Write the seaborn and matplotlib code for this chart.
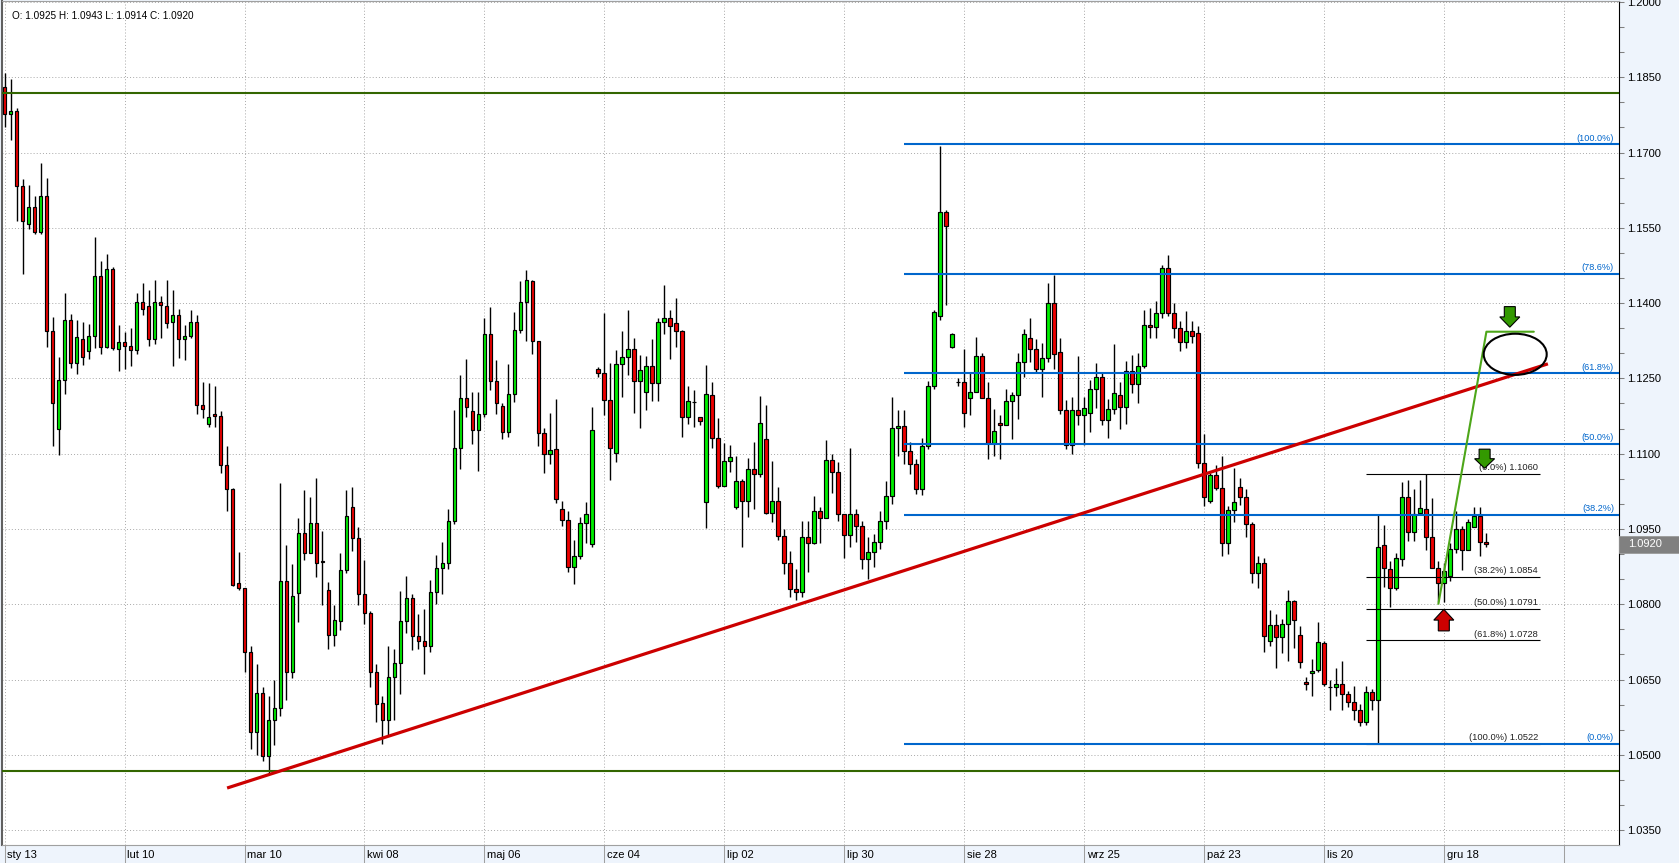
import numpy as np
import pandas as pd
import matplotlib
matplotlib.use("Agg")
import matplotlib.pyplot as plt
import matplotlib.transforms as mtransforms
from matplotlib.patches import Ellipse, Polygon, Rectangle
from matplotlib.ticker import FixedLocator, FuncFormatter
import seaborn as sns

# ---------------- data (EUR/USD daily candles) ----------------
opens = [
    1.1830, 1.1776, 1.1782, 1.1634, 1.1558, 1.1592, 1.1542, 1.1613, 1.1344, 1.1150,
    1.1246, 1.1366, 1.1280, 1.1329, 1.1304, 1.1335, 1.1453, 1.1313, 1.1467, 1.1309,
    1.1322, 1.1315, 1.1307, 1.1402, 1.1395, 1.1329, 1.1402, 1.1395, 1.1363, 1.1377,
    1.1329, 1.1335, 1.1362, 1.1198, 1.1159, 1.1180, 1.1175, 1.1078, 1.1030, 1.0842,
    1.0832, 1.0705, 1.0545, 1.0623, 1.0497, 1.0570, 1.0593, 1.0846, 1.0666, 1.0822,
    1.0942, 1.0902, 1.0962, 1.0886, 1.0828, 1.0738, 1.0766, 1.0868, 1.0994, 1.0932,
    1.0820, 1.0783, 1.0665, 1.0603, 1.0569, 1.0655, 1.0683, 1.0766, 1.0813, 1.0736,
    1.0727, 1.0717, 1.0825, 1.0872, 1.0883, 1.0965, 1.1111, 1.1211, 1.1186, 1.1147,
    1.1179, 1.1338, 1.1244, 1.1195, 1.1144, 1.1219, 1.1346, 1.1402, 1.1444, 1.1324,
    1.1141, 1.1099, 1.1109, 1.0990, 1.0968, 1.0875, 1.0897, 1.0962, 1.0920, 1.1269,
    1.1261, 1.1207, 1.1101, 1.1278, 1.1292, 1.1308, 1.1244, 1.1223, 1.1274, 1.1241,
    1.1362, 1.1370, 1.1360, 1.1345, 1.1173, 1.1203, 1.1173, 1.1004, 1.1217, 1.1131,
    1.1035, 1.1085, 1.0994, 1.1046, 1.1006, 1.1069, 1.1060, 1.1129, 1.0982, 1.1006,
    1.0937, 1.0882, 1.0830, 1.0825, 1.0935, 1.0922, 1.0986, 1.0971, 1.1087, 1.1063,
    1.0980, 1.0938, 1.0980, 1.0955, 1.0890, 1.0905, 1.0925, 1.0965, 1.1015, 1.1152,
    1.1156, 1.1105, 1.1080, 1.1030, 1.1115, 1.1234, 1.1375, 1.1581, 1.1312, 1.1242,
    1.1242, 1.1210, 1.1222, 1.1294, 1.1210, 1.1122, 1.1162, 1.1158, 1.1204, 1.1216,
    1.1282, 1.1330, 1.1308, 1.1268, 1.1290, 1.1401, 1.1302, 1.1187, 1.1117, 1.1187,
    1.1178, 1.1182, 1.1228, 1.1252, 1.1168, 1.1190, 1.1217, 1.1194, 1.1265, 1.1238,
    1.1275, 1.1357, 1.1352, 1.1380, 1.1470, 1.1381, 1.1350, 1.1323, 1.1345, 1.1340,
    1.1081, 1.1006, 1.1058, 1.1032, 1.0922, 1.0988, 1.1034, 1.1014, 1.0960, 1.0862,
    1.0882, 1.0727, 1.0758, 1.0735, 1.0761, 1.0806, 1.0738, 1.0646, 1.0663, 1.0670,
    1.0723, 1.0635, 1.0635, 1.0641, 1.0621, 1.0605, 1.0590, 1.0565, 1.0625, 1.0610,
    1.0918, 1.0870, 1.0832, 1.0890, 1.1014, 1.0945, 1.0982, 1.0990, 1.0934, 1.0872,
    1.0842, 1.0856, 1.0910, 1.0949, 1.0909, 1.0954, 1.0975, 1.0925,
]
highs = [
    1.1859, 1.1847, 1.1789, 1.1647, 1.1636, 1.1613, 1.1679, 1.1649, 1.1372, 1.1293,
    1.1420, 1.1379, 1.1366, 1.1362, 1.1359, 1.1531, 1.1483, 1.1498, 1.1472, 1.1356,
    1.1343, 1.1351, 1.1420, 1.1440, 1.1426, 1.1446, 1.1414, 1.1447, 1.1427, 1.1389,
    1.1356, 1.1386, 1.1376, 1.1242, 1.1240, 1.1235, 1.1185, 1.1115, 1.1032, 1.0905,
    1.0832, 1.0717, 1.0682, 1.0635, 1.0618, 1.0650, 1.1042, 1.0919, 1.0881, 1.0971,
    1.1028, 1.1014, 1.1052, 1.0947, 1.0844, 1.0799, 1.0902, 1.1027, 1.1034, 1.0954,
    1.0888, 1.0786, 1.0682, 1.0618, 1.0716, 1.0710, 1.0827, 1.0857, 1.0820, 1.0781,
    1.0790, 1.0849, 1.0899, 1.0924, 1.0990, 1.1187, 1.1256, 1.1289, 1.1223, 1.1223,
    1.1371, 1.1392, 1.1287, 1.1201, 1.1279, 1.1383, 1.1444, 1.1466, 1.1446, 1.1325,
    1.1151, 1.1181, 1.1208, 1.1005, 1.0985, 1.0929, 1.0973, 1.1004, 1.1194, 1.1273,
    1.1380, 1.1280, 1.1307, 1.1345, 1.1387, 1.1330, 1.1297, 1.1295, 1.1329, 1.1370,
    1.1437, 1.1387, 1.1410, 1.1347, 1.1235, 1.1227, 1.1173, 1.1277, 1.1243, 1.1171,
    1.1121, 1.1117, 1.1095, 1.1050, 1.1092, 1.1123, 1.1215, 1.1197, 1.1085, 1.1033,
    1.0949, 1.0907, 1.0870, 1.0966, 1.0966, 1.1016, 1.0994, 1.1127, 1.1099, 1.1083,
    1.0980, 1.1112, 1.0990, 1.0965, 1.0935, 1.0940, 1.0985, 1.1045, 1.1213, 1.1187,
    1.1187, 1.1123, 1.1090, 1.1132, 1.1245, 1.1386, 1.1713, 1.1586, 1.1340, 1.1250,
    1.1308, 1.1262, 1.1332, 1.1300, 1.1242, 1.1189, 1.1177, 1.1228, 1.1222, 1.1300,
    1.1348, 1.1371, 1.1328, 1.1320, 1.1441, 1.1456, 1.1330, 1.1207, 1.1212, 1.1294,
    1.1213, 1.1246, 1.1280, 1.1260, 1.1208, 1.1318, 1.1243, 1.1285, 1.1297, 1.1300,
    1.1387, 1.1390, 1.1405, 1.1475, 1.1495, 1.1400, 1.1365, 1.1385, 1.1365, 1.1355,
    1.1140, 1.1061, 1.1078, 1.1096, 1.0996, 1.1071, 1.1052, 1.1030, 1.0963, 1.0897,
    1.0892, 1.0788, 1.0781, 1.0771, 1.0829, 1.0809, 1.0756, 1.0655, 1.0691, 1.0764,
    1.0726, 1.0650, 1.0673, 1.0688, 1.0627, 1.0637, 1.0601, 1.0637, 1.0631, 1.0980,
    1.0957, 1.0887, 1.0902, 1.1043, 1.1048, 1.1030, 1.1048, 1.1060, 1.1012, 1.0887,
    1.0882, 1.0922, 1.0985, 1.0955, 1.0969, 1.0993, 1.0993, 1.0943,
]
lows = [
    1.1751, 1.1725, 1.1563, 1.1457, 1.1547, 1.1538, 1.1538, 1.1313, 1.1115, 1.1098,
    1.1219, 1.1270, 1.1258, 1.1276, 1.1289, 1.1311, 1.1299, 1.1311, 1.1307, 1.1264,
    1.1268, 1.1274, 1.1298, 1.1376, 1.1314, 1.1319, 1.1331, 1.1351, 1.1274, 1.1291,
    1.1286, 1.1331, 1.1179, 1.1171, 1.1153, 1.1153, 1.1061, 1.0985, 1.0836, 1.0828,
    1.0666, 1.0512, 1.0500, 1.0488, 1.0462, 1.0520, 1.0577, 1.0610, 1.0653, 1.0765,
    1.0888, 1.0902, 1.0854, 1.0798, 1.0710, 1.0716, 1.0748, 1.0862, 1.0907, 1.0799,
    1.0761, 1.0635, 1.0565, 1.0522, 1.0540, 1.0569, 1.0621, 1.0743, 1.0708, 1.0710,
    1.0661, 1.0705, 1.0800, 1.0820, 1.0870, 1.0960, 1.1069, 1.1174, 1.1120, 1.1065,
    1.1174, 1.1226, 1.1179, 1.1129, 1.1133, 1.1202, 1.1340, 1.1324, 1.1298, 1.1116,
    1.1061, 1.1079, 1.1002, 1.0956, 1.0865, 1.0840, 1.0890, 1.0923, 1.0914, 1.1252,
    1.1178, 1.1047, 1.1083, 1.1212, 1.1257, 1.1182, 1.1151, 1.1188, 1.1204, 1.1204,
    1.1338, 1.1289, 1.1312, 1.1133, 1.1159, 1.1153, 1.1157, 1.0952, 1.1111, 1.1031,
    1.1035, 1.1063, 1.0990, 1.0914, 1.0974, 1.0990, 1.1053, 1.0980, 1.0964, 1.0929,
    1.0860, 1.0815, 1.0808, 1.0815, 1.0865, 1.0920, 1.0923, 1.0971, 1.1022, 1.0965,
    1.0892, 1.0915, 1.0925, 1.0870, 1.0850, 1.0875, 1.0910, 1.0950, 1.1000, 1.1095,
    1.1080, 1.1060, 1.1020, 1.1017, 1.1110, 1.1228, 1.1367, 1.1397, 1.1310, 1.1235,
    1.1153, 1.1177, 1.1222, 1.1210, 1.1090, 1.1095, 1.1090, 1.1158, 1.1130, 1.1170,
    1.1252, 1.1283, 1.1260, 1.1212, 1.1283, 1.1268, 1.1180, 1.1110, 1.1100, 1.1158,
    1.1117, 1.1143, 1.1192, 1.1157, 1.1132, 1.1180, 1.1150, 1.1160, 1.1220, 1.1200,
    1.1270, 1.1330, 1.1330, 1.1370, 1.1375, 1.1330, 1.1305, 1.1310, 1.1320, 1.1071,
    1.0995, 1.1002, 1.1028, 1.0897, 1.0900, 1.0963, 1.0998, 1.0934, 1.0842, 1.0832,
    1.0705, 1.0716, 1.0673, 1.0703, 1.0688, 1.0713, 1.0673, 1.0630, 1.0617, 1.0666,
    1.0637, 1.0590, 1.0617, 1.0590, 1.0595, 1.0570, 1.0558, 1.0560, 1.0590, 1.0522,
    1.0834, 1.0794, 1.0828, 1.0877, 1.0927, 1.0927, 1.0978, 1.0909, 1.0872, 1.0804,
    1.0804, 1.0846, 1.0902, 1.0868, 1.0909, 1.0954, 1.0897, 1.0914,
]
closes = [
    1.1776, 1.1782, 1.1634, 1.1564, 1.1592, 1.1542, 1.1613, 1.1344, 1.1200, 1.1246,
    1.1366, 1.1280, 1.1332, 1.1292, 1.1335, 1.1453, 1.1313, 1.1467, 1.1311, 1.1322,
    1.1315, 1.1307, 1.1402, 1.1389, 1.1329, 1.1402, 1.1397, 1.1361, 1.1377, 1.1329,
    1.1335, 1.1362, 1.1198, 1.1189, 1.1173, 1.1175, 1.1078, 1.1030, 1.0838, 1.0832,
    1.0705, 1.0545, 1.0623, 1.0497, 1.0570, 1.0593, 1.0846, 1.0666, 1.0817, 1.0942,
    1.0902, 1.0962, 1.0882, 1.0884, 1.0738, 1.0769, 1.0868, 1.0976, 1.0932, 1.0820,
    1.0783, 1.0665, 1.0601, 1.0569, 1.0655, 1.0683, 1.0766, 1.0813, 1.0736, 1.0727,
    1.0717, 1.0825, 1.0872, 1.0883, 1.0966, 1.1111, 1.1211, 1.1194, 1.1147, 1.1179,
    1.1338, 1.1244, 1.1201, 1.1144, 1.1219, 1.1346, 1.1402, 1.1446, 1.1324, 1.1141,
    1.1099, 1.1107, 1.1010, 1.0968, 1.0875, 1.0897, 1.0962, 1.0980, 1.1147, 1.1261,
    1.1207, 1.1111, 1.1278, 1.1292, 1.1308, 1.1244, 1.1267, 1.1274, 1.1241, 1.1362,
    1.1370, 1.1355, 1.1345, 1.1173, 1.1204, 1.1203, 1.1165, 1.1219, 1.1131, 1.1035,
    1.1085, 1.1093, 1.1046, 1.1006, 1.1069, 1.1060, 1.1161, 1.0982, 1.1006, 1.0937,
    1.0882, 1.0830, 1.0825, 1.0935, 1.0922, 1.0986, 1.0972, 1.1087, 1.1063, 1.0980,
    1.0938, 1.0980, 1.0955, 1.0890, 1.0905, 1.0925, 1.0965, 1.1015, 1.1152, 1.1156,
    1.1105, 1.1080, 1.1030, 1.1115, 1.1234, 1.1383, 1.1581, 1.1553, 1.1338, 1.1242,
    1.1182, 1.1222, 1.1294, 1.1210, 1.1122, 1.1146, 1.1158, 1.1204, 1.1216, 1.1282,
    1.1338, 1.1308, 1.1268, 1.1290, 1.1401, 1.1298, 1.1187, 1.1117, 1.1187, 1.1178,
    1.1192, 1.1228, 1.1252, 1.1168, 1.1190, 1.1220, 1.1194, 1.1265, 1.1238, 1.1275,
    1.1357, 1.1352, 1.1380, 1.1470, 1.1381, 1.1350, 1.1323, 1.1345, 1.1335, 1.1081,
    1.1014, 1.1058, 1.1032, 1.0922, 1.0988, 1.1004, 1.1014, 1.0960, 1.0862, 1.0882,
    1.0737, 1.0758, 1.0735, 1.0761, 1.0806, 1.0769, 1.0685, 1.0641, 1.0668, 1.0725,
    1.0641, 1.0635, 1.0641, 1.0622, 1.0605, 1.0590, 1.0565, 1.0625, 1.0610, 1.0915,
    1.0872, 1.0832, 1.0892, 1.1014, 1.0945, 1.0980, 1.0992, 1.0934, 1.0872, 1.0842,
    1.0866, 1.0910, 1.0949, 1.0909, 1.0963, 1.0975, 1.0924, 1.0920,
]

date_labels = ['sty 13', 'lut 10', 'mar 10', 'kwi 08', 'maj 06', 'cze 04', 'lip 02',
               'lip 30', 'sie 28', 'wrz 25', 'paź 23', 'lis 20', 'gru 18']
date_index = [0, 20, 40, 60, 80, 100, 120, 140, 160, 180, 200, 220, 240]
extra_grid_index = [260]

price_labels = [1.0350, 1.0500, 1.0650, 1.0800, 1.0950, 1.1100, 1.1250,
                1.1400, 1.1550, 1.1700, 1.1850, 1.2000]

support_levels = [1.1819, 1.0467]
trend_x = [37.1, 257.25]
trend_y = [1.0434, 1.1279]

fib_blue_levels = [1.1716, 1.1458, 1.1260, 1.1119, 1.0978, 1.0522]
fib_blue_labels = ['(100.0%)', '(78.6%)', '(61.8%)', '(50.0%)', '(38.2%)', '(0.0%)']
fib_blue_start = 149.9

fib_black_levels = [1.1060, 1.0854, 1.0791, 1.0728, 1.0522]
fib_black_labels = ['(0.0%) 1.1060', '(38.2%) 1.0854', '(50.0%) 1.0791',
                    '(61.8%) 1.0728', '(100.0%) 1.0522']
fib_black_span = [226.9, 255.9]

proj_x = [239.0, 247.0, 254.9]
proj_y = [1.0801, 1.1343, 1.1343]

ellipse_center = (251.8, 1.1298)
ellipse_size = (10.5, 0.0082)

down_arrows = [(250.9, 1.1393, 1.1352), (246.7, 1.1109, 1.1071)]  # x, base, tip
up_arrows = [(239.9, 1.0747, 1.0790)]

last_price = 1.0920
header = 'O: 1.0925 H: 1.0943 L: 1.0914 C: 1.0920'

# ---------------- figure ----------------
sns.set_theme(style='white')
plt.rcParams['font.family'] = ['Liberation Sans', 'DejaVu Sans']

W, H = 1679, 863
PX_X = 6.0      # pixels per candle
PX_Y = 5020.0   # pixels per price unit
BG = '#EEF4FC'

fig = plt.figure(figsize=(W / 100, H / 100), dpi=100, facecolor=BG)
ax = fig.add_axes([2 / W, 18 / H, 1617 / W, 844 / H], facecolor='white')
ax.set_xlim(-0.42, 269.1)
ax.set_ylim(1.03205, 1.20018)
ax.set_axisbelow(True)

df = pd.DataFrame({'open': opens, 'high': highs, 'low': lows, 'close': closes})
df['idx'] = np.arange(len(df))
df['bottom'] = df[['open', 'close']].min(axis=1)
df['height'] = (df['close'] - df['open']).abs().clip(lower=0.00001)
colors = np.where(df['close'] > df['open'], '#00EE00',
                  np.where(df['close'] < df['open'], '#EE0000', '#000000'))

# gridlines / ticks
ax.yaxis.tick_right()
ax.yaxis.set_major_locator(FixedLocator(price_labels))
minor = [round(1.035 + 0.005 * k, 4) for k in range(34)]
minor = [m for m in minor if all(abs(m - p) > 1e-6 for p in price_labels)]
ax.yaxis.set_minor_locator(FixedLocator(minor))
ax.yaxis.set_major_formatter(FuncFormatter(lambda v, p: f'{v:.4f}'))
ax.tick_params(axis='y', which='both', direction='out', length=3.6, width=0.75,
               color='#808080', labelsize=8, pad=2.5, labelcolor='black',
               right=True, left=False, labelright=True, labelleft=False)
ax.xaxis.set_major_locator(FixedLocator(date_index + extra_grid_index))
ax.tick_params(axis='x', bottom=False, top=False, labelbottom=False)
ax.grid(True, which='major', axis='both', color='#A8A8A8',
        linestyle=(0, (1, 2.2)), linewidth=0.7)

for side, col, lw in [('left', '#606060', 1.5), ('top', '#A0A0A0', 0.8),
                      ('bottom', '#A0A0A0', 0.8), ('right', 'black', 0.8)]:
    ax.spines[side].set_visible(True)
    ax.spines[side].set_color(col)
    ax.spines[side].set_linewidth(lw)

# candles
ax.vlines(df['idx'], df['low'], df['high'], color='black', lw=1.0, zorder=3)
ax.bar(df['idx'], df['height'], bottom=df['bottom'], width=0.66, color=colors,
       edgecolor='black', linewidth=0.85, zorder=4)

# horizontal support/resistance lines
for lvl in support_levels:
    ax.axhline(lvl, color='#336600', lw=1.5, zorder=5)

# black fibonacci
for lvl, lab in zip(fib_black_levels, fib_black_labels):
    ax.hlines(lvl, fib_black_span[0], fib_black_span[1], color='black', lw=0.8, zorder=5)
    ax.text(fib_black_span[1] - 0.3, lvl + 0.00035, lab, ha='right', va='bottom',
            fontsize=6.7, color='#222222', zorder=6)

# blue fibonacci
x_right = ax.get_xlim()[1]
for lvl, lab in zip(fib_blue_levels, fib_blue_labels):
    ax.hlines(lvl, fib_blue_start, x_right, color='#0066CC', lw=1.5, zorder=5)
    ax.text(268.25, lvl + 0.00035, lab, ha='right', va='bottom',
            fontsize=6.6, color='#0066CC', zorder=6)

# red trend line
ax.plot(trend_x, trend_y, color='#CC0000', lw=2.3, zorder=6, solid_capstyle='butt')

# green projection path
ax.plot(proj_x, proj_y, color='#4DA619', lw=1.5, zorder=7)

# ellipse
ax.add_patch(Ellipse(ellipse_center, ellipse_size[0], ellipse_size[1], fill=False,
                     edgecolor='black', lw=1.5, zorder=7))


def arrow_points(cx, base, tip):
    sw = 5.5 / PX_X
    hw = 10.0 / PX_X
    mid = (base + tip) / 2.0
    return [(cx - sw, base), (cx + sw, base), (cx + sw, mid), (cx + hw, mid),
            (cx, tip), (cx - hw, mid), (cx - sw, mid)]


for cx, b, t in down_arrows:
    ax.add_patch(Polygon(arrow_points(cx, b, t), closed=True, facecolor='#339900',
                         edgecolor='black', lw=0.8, zorder=9))
for cx, b, t in up_arrows:
    ax.add_patch(Polygon(arrow_points(cx, b, t), closed=True, facecolor='#CC0000',
                         edgecolor='black', lw=0.8, zorder=9))

# date band below the plot
trans = mtransforms.blended_transform_factory(ax.transData, ax.transAxes)
band_h = 18 / 844
for xi in date_index + extra_grid_index:
    ax.plot([xi, xi], [0, -band_h], transform=trans, color='#A0A0A0', lw=0.75,
            clip_on=False, zorder=1)
for xi, lab in zip(date_index, date_labels):
    ax.text(xi + 0.45, -9.5 / 844, lab, transform=trans, ha='left', va='center',
            fontsize=8, color='black', clip_on=False)

# last price box on the right axis
tr2 = mtransforms.blended_transform_factory(ax.transAxes, ax.transData)
ax.add_patch(Rectangle((1.0, last_price - 8.5 / PX_Y), 62 / 1617, 17 / PX_Y,
                       transform=tr2, facecolor='#808080', edgecolor='#9A9A9A',
                       lw=0.6, clip_on=False, zorder=20))
ax.text(1.0 + 9 / 1617, last_price, f'{last_price:.4f}', transform=tr2, ha='left',
        va='center', fontsize=8, color='white', clip_on=False, zorder=21)

# header
fig.text(12 / W, 1 - 16 / H, header, ha='left', va='center', fontsize=7.2, color='black')

fig.savefig('out.png', dpi=100, facecolor=fig.get_facecolor())
